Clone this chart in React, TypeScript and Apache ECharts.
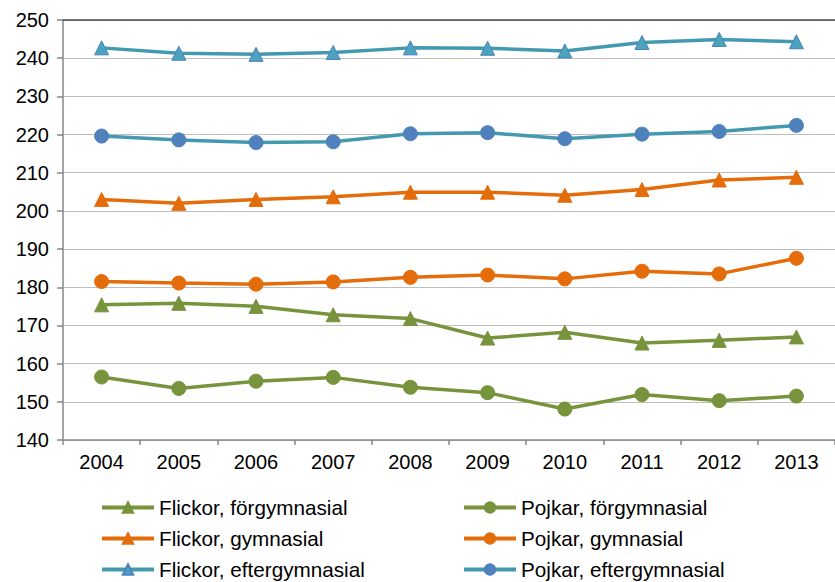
import React, { useEffect, useRef } from "react";
import * as echarts from "echarts";

const years = ["2004", "2005", "2006", "2007", "2008", "2009", "2010", "2011", "2012", "2013"];

const flickorForgymnasial = [175.4, 175.8, 175.0, 172.8, 171.8, 166.7, 168.2, 165.4, 166.1, 167.0];
const pojkarForgymnasial = [156.5, 153.5, 155.4, 156.4, 153.8, 152.4, 148.1, 151.9, 150.3, 151.5];
const flickorGymnasial = [203.0, 202.0, 203.0, 203.7, 204.9, 204.9, 204.1, 205.6, 208.1, 208.8];
const pojkarGymnasial = [181.5, 181.1, 180.8, 181.4, 182.6, 183.2, 182.2, 184.2, 183.5, 187.6];
const flickorEftergymnasial = [242.7, 241.3, 241.0, 241.5, 242.7, 242.6, 241.9, 244.1, 244.9, 244.3];
const pojkarEftergymnasial = [219.6, 218.6, 217.9, 218.1, 220.2, 220.5, 218.9, 220.1, 220.8, 222.4];

const GREEN = "#77933C";
const ORANGE = "#E46C0A";
const TEAL = "#4399B0";
const BLUE = "#4F81BD";
const TEAL_FILL = "#4BA3BE";

const FONT = "'Liberation Sans', Arial, sans-serif";

function mkSeries(name: string, data: number[], lineColor: string, symbol: string, fill: string, border: string) {
  return {
    name,
    type: "line",
    data,
    symbol,
    symbolSize: 14,
    showSymbol: true,
    lineStyle: { color: lineColor, width: 3.5 },
    itemStyle: { color: fill, borderColor: border, borderWidth: 1 },
    emphasis: { disabled: true },
    z: 3,
  };
}

export default function App() {
  const ref = useRef<HTMLDivElement>(null);
  useEffect(() => {
    if (!ref.current) return;
    const chart = echarts.init(ref.current, undefined, { renderer: "svg" });
    const legendCommon = {
      orient: "vertical",
      itemWidth: 52,
      itemHeight: 13,
      itemGap: 10,
      top: 497,
      height: 90,
      padding: 0,
      lineStyle: { width: 4 },
      textStyle: { fontFamily: FONT, fontSize: 20.7, lineHeight: 20, color: "#000" },
      selectedMode: false,
    };
    chart.setOption({
      animation: false,
      backgroundColor: "#fff",
      grid: { left: 63, top: 20, right: -6, bottom: 142, containLabel: false },
      legend: [
        { ...legendCommon, left: 100, data: ["Flickor, förgymnasial", "Flickor, gymnasial", "Flickor, eftergymnasial"] },
        { ...legendCommon, left: 462, data: ["Pojkar, förgymnasial", "Pojkar, gymnasial", "Pojkar, eftergymnasial"] },
      ],
      xAxis: [
        {
          type: "category",
          data: years,
          boundaryGap: true,
          axisLine: { lineStyle: { color: "#868686", width: 1.5 } },
          axisTick: { show: true, length: 5, inside: false, lineStyle: { color: "#868686", width: 1.5 } },
          axisLabel: { fontFamily: FONT, fontSize: 20, color: "#000", margin: 12 },
          splitLine: { show: false },
        },
        {
          type: "category",
          data: years,
          position: "top",
          axisLine: { show: true, lineStyle: { color: "#4a4a4a", width: 1.5 } },
          axisTick: { show: false },
          axisLabel: { show: false },
          splitLine: { show: false },
        },
      ],
      yAxis: {
        type: "value",
        min: 140,
        max: 250,
        interval: 10,
        axisLine: { show: true, lineStyle: { color: "#868686", width: 1.5 } },
        axisTick: { show: true, length: 6, inside: false, lineStyle: { color: "#868686", width: 1.5 } },
        axisLabel: { fontFamily: FONT, fontSize: 20, color: "#000", margin: 14 },
        splitLine: { show: true, lineStyle: { color: "#BEBEBE", width: 1 } },
      },
      series: [
        mkSeries("Flickor, förgymnasial", flickorForgymnasial, GREEN, "triangle", GREEN, GREEN),
        mkSeries("Pojkar, förgymnasial", pojkarForgymnasial, GREEN, "circle", GREEN, GREEN),
        mkSeries("Flickor, gymnasial", flickorGymnasial, ORANGE, "triangle", ORANGE, ORANGE),
        mkSeries("Pojkar, gymnasial", pojkarGymnasial, ORANGE, "circle", ORANGE, ORANGE),
        mkSeries("Flickor, eftergymnasial", flickorEftergymnasial, TEAL, "triangle", TEAL_FILL, BLUE),
        mkSeries("Pojkar, eftergymnasial", pojkarEftergymnasial, TEAL, "circle", BLUE, BLUE),
      ],
    });
    return () => chart.dispose();
  }, []);
  return (
    <div
      ref={ref}
      style={{ position: "fixed", left: 0, top: 0, width: 835, height: 582, background: "#fff" }}
    />
  );
}
